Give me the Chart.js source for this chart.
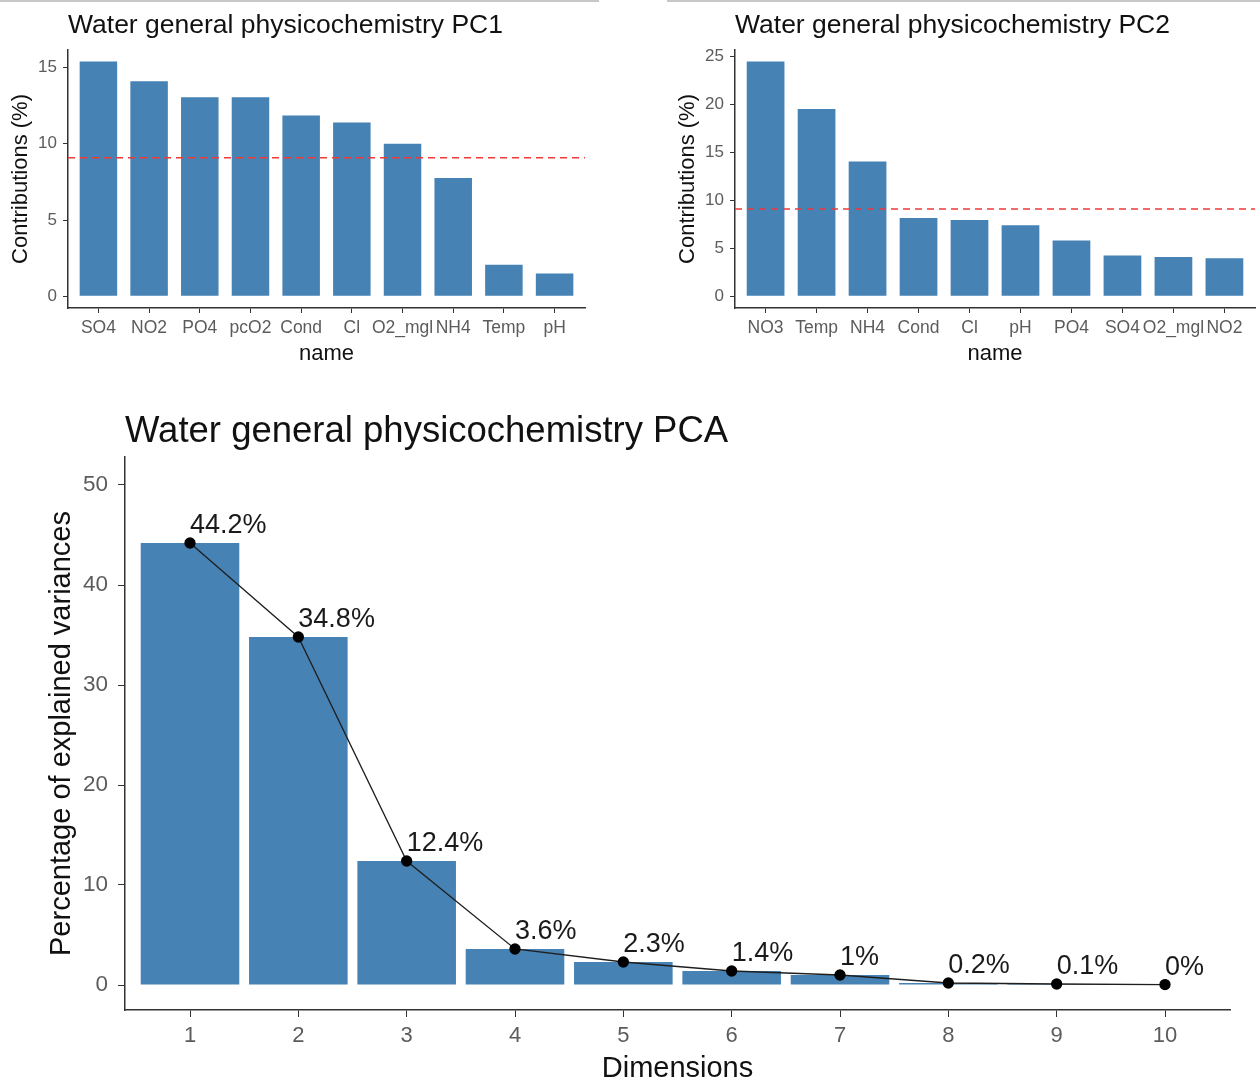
<!DOCTYPE html>
<html>
<head>
<meta charset="utf-8">
<script src="https://cdn.jsdelivr.net/npm/chart.js@4.4.1/dist/chart.umd.min.js"></script>
<style>
  body { margin: 0; background: #fff; width: 1260px; height: 1083px; overflow: hidden; position: relative; }
  canvas { position: absolute; }
  .rule { position: absolute; top: 0; height: 2px; background: #c8c8c8; }
</style>
</head>
<body>
<div class="rule" style="left:0;width:599px"></div>
<div class="rule" style="left:667px;width:593px"></div>
<canvas id="pc1" width="600" height="370" style="left:0;top:0"></canvas>
<canvas id="pc2" width="600" height="370" style="left:660px;top:0"></canvas>
<canvas id="pca" width="1260" height="693" style="left:0;top:390px"></canvas>
<script>
// contributions of variables to PC1 / PC2 (%)
const pc1Names = ["SO4", "NO2", "PO4", "pcO2", "Cond", "Cl", "O2_mgl", "NH4", "Temp", "pH"];
const pc1Values = [15.4, 14.1, 13.05, 13.05, 11.85, 11.4, 10.0, 7.75, 2.07, 1.5];
const pc2Names = ["NO3", "Temp", "NH4", "Cond", "Cl", "pH", "PO4", "SO4", "O2_mgl", "NO2"];
const pc2Values = [24.45, 19.5, 14.05, 8.15, 7.95, 7.4, 5.8, 4.25, 4.1, 3.95];
const expectedContrib = 9.09;

// scree plot
const dims = [1, 2, 3, 4, 5, 6, 7, 8, 9, 10];
const eigPercent = [44.2, 34.8, 12.4, 3.6, 2.3, 1.4, 1.0, 0.2, 0.1, 0.04];
const eigLabels = ["44.2%", "34.8%", "12.4%", "3.6%", "2.3%", "1.4%", "1%", "0.2%", "0.1%", "0%"];

const STEEL = "#4682B4";
const AXIS = "#333333";
const TICK_TEXT = "#5c5c5c";
const FAMILY = '"Liberation Sans", Arial, sans-serif';
Chart.defaults.font.family = FAMILY;

// title left-aligned on the panel, like ggplot
const panelTitle = {
    id: "panelTitle",
    afterDraw(chart, args, opts) {
        const ctx = chart.ctx;
        ctx.save();
        ctx.font = opts.font;
        ctx.fillStyle = "#111";
        ctx.textAlign = "left";
        ctx.textBaseline = "alphabetic";
        ctx.fillText(opts.text, chart.chartArea.left, opts.baseline);
        ctx.restore();
    }
};

const pointLabels = {
    id: "pointLabels",
    afterDatasetsDraw(chart, args, opts) {
        if (!opts.labels) return;
        const ctx = chart.ctx;
        const meta = chart.getDatasetMeta(opts.dataset);
        ctx.save();
        ctx.font = opts.font;
        ctx.fillStyle = "#1a1a1a";
        ctx.textAlign = "left";
        ctx.textBaseline = "alphabetic";
        meta.data.forEach(function(pt, i) {
            ctx.fillText(opts.labels[i], pt.x, pt.y - opts.offset);
        });
        ctx.restore();
    }
};

function axisGrid(len) {
    return { display: true, drawOnChartArea: false, drawTicks: true, tickLength: len, color: AXIS, lineWidth: 1, offset: false };
}

function contribChart(id, title, names, values, yMax, stepY, yWidth, yTitlePad) {
    const yMin = -yMax * 0.0476;
    return new Chart(document.getElementById(id), {
        type: "bar",
        data: {
            datasets: [
                {
                    type: "bar",
                    data: values.map(function(v, i) { return { x: i + 1, y: v }; }),
                    backgroundColor: STEEL,
                    barPercentage: 0.74,
                    categoryPercentage: 1,
                    order: 2
                },
                {
                    type: "line",
                    data: [{ x: 0.4, y: expectedContrib }, { x: 10.6, y: expectedContrib }],
                    borderColor: "#f03a3a",
                    borderDash: [7, 5],
                    borderWidth: 1.5,
                    pointRadius: 0,
                    order: 1
                }
            ]
        },
        options: {
            responsive: false,
            animation: false,
            layout: { padding: { top: 50, left: 0, right: id === "pc1" ? 15 : 5, bottom: 0 } },
            plugins: {
                legend: { display: false },
                tooltip: { enabled: false },
                panelTitle: { text: title, font: "26.5px " + FAMILY, baseline: 33 }
            },
            scales: {
                x: {
                    type: "linear", min: 0.4, max: 10.6, offset: false,
                    ticks: {
                        stepSize: 1, includeBounds: false, autoSkip: false, maxRotation: 0,
                        padding: 5, color: TICK_TEXT, font: { size: 17.5 },
                        callback: function(v) { return Number.isInteger(v) ? (names[v - 1] || "") : ""; }
                    },
                    grid: axisGrid(5),
                    border: { display: true, color: AXIS, width: 1.5 },
                    title: { display: true, text: "name", color: "#111", font: { size: 22 }, padding: { top: 0, bottom: 2.4 } },
                    afterFit: function(s) { s.height = 62; }
                },
                y: {
                    min: yMin, max: yMax,
                    ticks: { stepSize: stepY, includeBounds: false, padding: 6, color: TICK_TEXT, font: { size: 17 } },
                    grid: axisGrid(5),
                    border: { display: true, color: AXIS, width: 1.5 },
                    title: { display: true, text: "Contributions (%)", color: "#111", font: { size: 22 }, padding: { top: yTitlePad, bottom: 0 } },
                    afterFit: function(s) { s.width = yWidth; }
                }
            }
        },
        plugins: [panelTitle]
    });
}

contribChart("pc1", "Water general physicochemistry PC1", pc1Names, pc1Values, 16.15, 5, 68, 7.8);
contribChart("pc2", "Water general physicochemistry PC2", pc2Names, pc2Values, 25.65, 5, 75, 14.8);

const screePoints = dims.map(function(d, i) { return { x: d, y: eigPercent[i] }; });

new Chart(document.getElementById("pca"), {
    type: "bar",
    data: {
        datasets: [
            {
                type: "bar",
                data: screePoints,
                backgroundColor: STEEL,
                barPercentage: 0.91,
                categoryPercentage: 1,
                order: 2
            },
            {
                type: "line",
                data: screePoints,
                borderColor: "#1e1e1e",
                borderWidth: 1.3,
                pointRadius: 5,
                pointBackgroundColor: "#000",
                pointBorderColor: "#000",
                tension: 0,
                order: 1
            }
        ]
    },
    options: {
        responsive: false,
        animation: false,
        layout: { padding: { top: 67, left: 0, right: 30, bottom: 0 } },
        plugins: {
            legend: { display: false },
            tooltip: { enabled: false },
            panelTitle: { text: "Water general physicochemistry PCA", font: "36.5px " + FAMILY, baseline: 52 },
            pointLabels: { labels: eigLabels, dataset: 1, font: "27px " + FAMILY, offset: 10 }
        },
        scales: {
            x: {
                type: "linear", min: 0.4, max: 10.6, offset: false,
                ticks: {
                    stepSize: 1, includeBounds: false, autoSkip: false, maxRotation: 0,
                    padding: 6, color: TICK_TEXT, font: { size: 22 },
                    callback: function(v) { return Number.isInteger(v) ? String(v) : ""; }
                },
                grid: axisGrid(7),
                border: { display: true, color: AXIS, width: 1.5 },
                title: { display: true, text: "Dimensions", color: "#111", font: { size: 29, lineHeight: 1 }, padding: { top: 0, bottom: 0 } },
                afterFit: function(s) { s.height = 73; }
            },
            y: {
                min: -2.5, max: 52.8,
                ticks: { stepSize: 10, includeBounds: false, padding: 10, color: TICK_TEXT, font: { size: 22.5 } },
                grid: axisGrid(7),
                border: { display: true, color: AXIS, width: 1.5 },
                title: { display: true, text: "Percentage of explained variances", color: "#111", font: { size: 29 }, padding: { top: 44.6, bottom: 0 } },
                afterFit: function(s) { s.width = 125; }
            }
        }
    },
    plugins: [panelTitle, pointLabels]
});
</script>
</body>
</html>
